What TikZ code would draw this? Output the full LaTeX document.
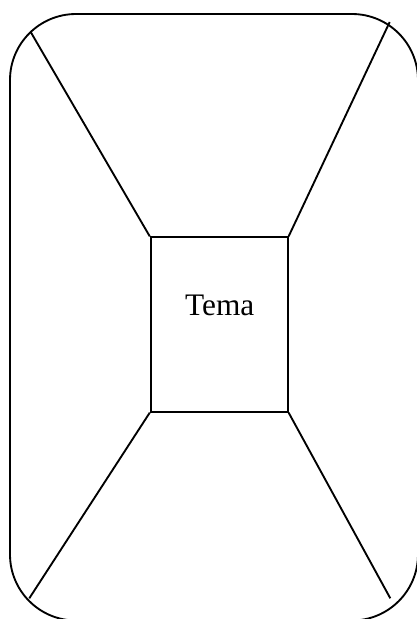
\documentclass[tikz,border=0pt]{standalone}
\usepackage{fontspec}
\setmainfont{Liberation Serif}
\begin{document}
\begin{tikzpicture}[x=0.75pt,y=-0.75pt,
  outline/.style={draw=black,line width=1.4pt},
  topicbox/.style={outline,rectangle,minimum width=102.75pt,minimum height=130.8pt,inner sep=0pt},
  spoke/.style={draw=black,line width=1.4pt}]
\useasboundingbox (0,0) rectangle (417,619);
\begin{scope}
\clip (0,0) rectangle (417,619);
\draw[outline,rounded corners=49.5pt] (10,14) rectangle (418,620.5);
\end{scope}
\node[topicbox] (box) at (219.2,324.5) {};
\node[anchor=base,font=\fontsize{23.5}{28}\selectfont,inner sep=0pt] (label) at (219.7,315) {Tema};
\coordinate (tl) at (30.7,32);
\coordinate (tr) at (389.7,22);
\coordinate (bl) at (29.3,598.3);
\coordinate (br) at (390.3,598.3);
\draw[spoke] (tl) -- (box.north west);
\draw[spoke] (tr) -- (box.north east);
\draw[spoke] (bl) -- (box.south west);
\draw[spoke] (br) -- (box.south east);
\end{tikzpicture}
\end{document}
